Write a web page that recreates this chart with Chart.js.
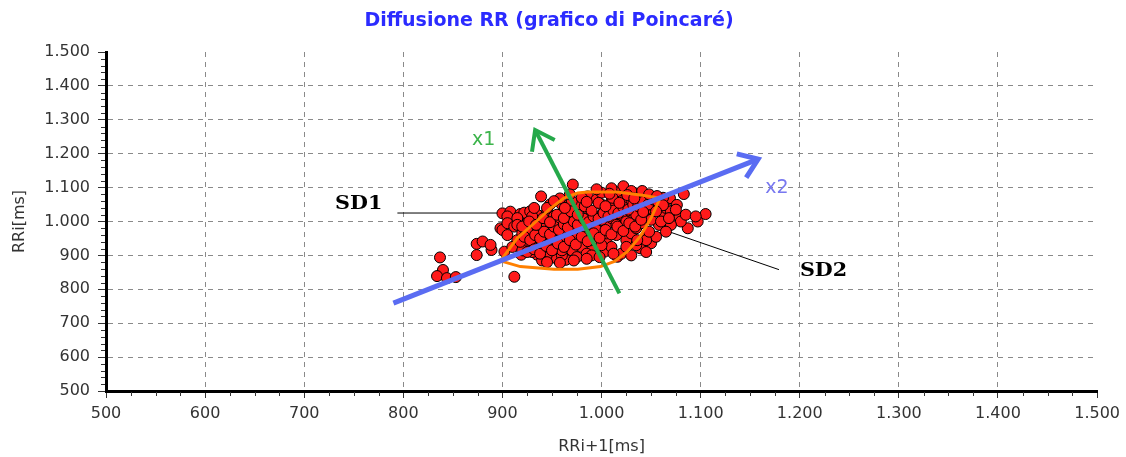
<!DOCTYPE html>
<html>
<head>
<meta charset="utf-8">
<title>Diffusione RR</title>
<script src="https://cdn.jsdelivr.net/npm/chart.js@4.4.1/dist/chart.umd.min.js"></script>
<style>
  html, body { margin: 0; padding: 0; background: #fff; }
</style>
</head>
<body>
<canvas id="poincare" width="1126" height="457"></canvas>
<script>
// tick labels (Italian thousands separator)
const xTickLabels = ["500", "600", "700", "800", "900", "1.000", "1.100", "1.200", "1.300", "1.400", "1.500"];
const yTickLabels = ["500", "600", "700", "800", "900", "1.000", "1.100", "1.200", "1.300", "1.400", "1.500"];

// RRi+1 (x) and RRi (y) in ms, one row of ten beats per line
const rrNext = [
  837, 840, 834, 844, 853, 874, 874, 889, 880, 888,
  898, 900, 908, 918, 922, 912, 939, 971, 986, 1022,
  1013, 1033, 1050, 1069, 1083, 1076, 1105, 1097, 1087, 1076,
  1060, 1058, 1046, 1050, 1039, 1016, 1003, 989, 964, 953,
  935, 919, 902, 900, 905, 915, 928, 935, 945, 952,
  905, 912, 925, 940, 905, 915, 920, 930, 925, 935,
  945, 910, 920, 930, 945, 955, 960, 940, 950, 958,
  965, 950, 940, 960, 970, 965, 955, 975, 980, 975,
  980, 970, 985, 990, 995, 985, 1000, 995, 990, 985,
  975, 965, 960, 970, 980, 995, 1000, 1005, 1010, 1015,
  1005, 1020, 1015, 1005, 1025, 1030, 1035, 1040, 1030, 1025,
  1020, 1010, 1015, 1025, 1035, 1040, 1045, 1050, 1055, 1045,
  1060, 1030, 1000, 995, 1010, 1040, 1065, 1070, 1080, 1085,
  1095, 1070, 1065, 1055, 1045, 1035, 1025, 1010, 1000, 990,
  975, 1020, 1030, 1045, 915, 925, 935, 955, 960, 940,
  960, 970, 980, 990, 1000, 1010, 990, 1000, 1010, 1020,
  1030, 1020, 965, 975, 985, 995, 1005, 950, 940, 930,
  1015, 1025, 1035, 1045, 1050, 948, 958, 968, 945, 930,
  918, 922, 928, 933, 938, 942, 948, 952, 957, 962,
  966, 972, 976, 982, 987, 992, 997, 1002, 1007, 1012,
  1017, 1022, 1027, 1032, 1037, 1042, 1047, 1052, 1057, 1062,
  925, 932, 938, 944, 950, 956, 962, 968, 974, 980,
  986, 992, 998, 1004, 1010, 1016, 1022, 1028, 1034, 1040,
  920, 927, 934, 941, 948, 955, 962, 969, 976, 983,
  990, 997, 1004, 1011, 1018, 1026, 1033, 1041, 1048, 1056,
  945, 958, 972, 985, 998, 1012, 1025, 1036, 1048, 1060,
  1068, 1075, 1062, 1055, 1042, 1008, 985, 963, 952, 932
];
const rrCurr = [
  894, 857, 839, 833, 836, 934, 901, 916, 941, 931,
  980, 1024, 1029, 1022, 1026, 837, 1074, 1109, 1074, 1104,
  1089, 1084, 1074, 1069, 1081, 1049, 1022, 1000, 980, 1019,
  1025, 990, 961, 936, 921, 896, 911, 921, 887, 906,
  902, 902, 911, 975, 1015, 1010, 1030, 1020, 1028, 1015,
  995, 985, 995, 1005, 960, 945, 965, 950, 930, 940,
  955, 925, 915, 910, 895, 890, 900, 920, 935, 945,
  960, 970, 980, 985, 975, 1000, 1005, 1010, 995, 940,
  925, 915, 905, 945, 960, 970, 980, 1000, 1020, 1040,
  1045, 1030, 1050, 1060, 1070, 1065, 1050, 1035, 1020, 1000,
  990, 985, 960, 950, 945, 965, 980, 995, 1010, 1030,
  1045, 1060, 1075, 1065, 1055, 1040, 1020, 1005, 1045, 1060,
  1060, 1090, 1085, 1095, 1098, 1075, 1040, 1030, 1000, 1020,
  1015, 990, 970, 955, 945, 930, 915, 925, 930, 900,
  895, 905, 900, 910, 990, 975, 965, 925, 915, 885,
  970, 990, 980, 990, 1005, 1010, 1010, 1020, 1040, 1020,
  1040, 1060, 945, 960, 955, 975, 965, 950, 935, 925,
  990, 1000, 1020, 1035, 1050, 1050, 1068, 1080, 1040, 1015,
  940, 955, 945, 960, 950, 970, 962, 985, 975, 992,
  982, 1000, 990, 1008, 998, 1015, 1008, 1025, 1015, 1032,
  1025, 1042, 1035, 1050, 1045, 1058, 1050, 1065, 1058, 1070,
  910, 918, 905, 928, 915, 935, 925, 945, 932, 955,
  942, 965, 952, 975, 962, 985, 972, 995, 985, 1005,
  985, 1000, 990, 1010, 998, 1020, 1010, 1030, 1020, 1045,
  1032, 1055, 1045, 1070, 1055, 1078, 1068, 1090, 1080, 1075,
  880, 878, 885, 890, 895, 905, 925, 945, 970, 1000,
  1010, 1035, 1048, 1030, 1028, 1082, 1058, 1040, 1060, 1040
];

// SD ellipse outline (x, y in ms)
const ellipseX = [898, 915, 934, 947, 962, 976, 986, 1016, 1043, 1059, 1050, 1039, 1026, 1013, 999, 976, 952, 918, 898];
const ellipseY = [884, 951, 1000, 1035, 1069, 1084, 1087, 1087, 1077, 1069, 1010, 956, 911, 882, 867, 859, 859, 867, 884];

// principal axes (start, tip)
const axisX2 = { x: [790, 1158], y: [759, 1184] };
const axisX1 = { x: [1018, 933], y: [788, 1270] };

// leader lines for the SD labels
const leaderSD1 = { x: [794, 917], y: [1025, 1025] };
const leaderSD2 = { x: [1064, 1179], y: [974, 858] };

const notes = [
  { text: "SD1", x: 755, y: 1052, font: "bold 18px 'DejaVu Serif'", color: "#000", stretch: 1.15 },
  { text: "SD2", x: 1224, y: 854, font: "bold 18px 'DejaVu Serif'", color: "#000", stretch: 1.15 },
  { text: "x1", x: 881, y: 1240, font: "19px 'DejaVu Sans'", color: "#3cb44b", stretch: 1 },
  { text: "x2", x: 1177, y: 1100, font: "19px 'DejaVu Sans'", color: "#7878f0", stretch: 1 }
];

const toPts = (xs, ys) => xs.map((x, i) => ({ x: x, y: ys[i] }));

const decor = {
  id: "decor",
  afterDatasetsDraw(chart) {
    const ctx = chart.ctx;
    // arrow heads on the axis lines
    chart.data.datasets.forEach((ds, i) => {
      if (!ds.arrowHead) return;
      const pts = chart.getDatasetMeta(i).data;
      const a = pts[pts.length - 2], b = pts[pts.length - 1];
      const ang = Math.atan2(b.y - a.y, b.x - a.x);
      const len = 22, spread = 0.62;
      ctx.save();
      ctx.strokeStyle = ds.borderColor;
      ctx.lineWidth = ds.borderWidth;
      ctx.lineJoin = "miter";
      ctx.beginPath();
      ctx.moveTo(b.x - len * Math.cos(ang - spread), b.y - len * Math.sin(ang - spread));
      ctx.lineTo(b.x, b.y);
      ctx.lineTo(b.x - len * Math.cos(ang + spread), b.y - len * Math.sin(ang + spread));
      ctx.stroke();
      ctx.restore();
    });
    // text notes
    const xs = chart.scales.x, ys = chart.scales.y;
    notes.forEach((n) => {
      ctx.save();
      ctx.font = n.font;
      ctx.fillStyle = n.color;
      ctx.textAlign = "center";
      ctx.textBaseline = "middle";
      ctx.translate(xs.getPixelForValue(n.x), ys.getPixelForValue(n.y));
      ctx.scale(n.stretch, 1);
      ctx.fillText(n.text, 0, 0);
      ctx.restore();
    });
  },
  afterDraw(chart) {
    // minor tick marks
    const ctx = chart.ctx;
    const xs = chart.scales.x, ys = chart.scales.y;
    const area = chart.chartArea;
    ctx.save();
    ctx.strokeStyle = "#333";
    ctx.lineWidth = 1;
    ctx.beginPath();
    for (let v = 525; v < 1500; v += 25) {
      if (v % 100 === 0) continue;
      const px = Math.round(xs.getPixelForValue(v)) + 0.5;
      ctx.moveTo(px, area.bottom + 1);
      ctx.lineTo(px, area.bottom + 5);
    }
    for (let v = 520; v < 1500; v += 20) {
      if (v % 100 === 0) continue;
      const py = Math.round(ys.getPixelForValue(v)) + 0.5;
      ctx.moveTo(area.left - 1, py);
      ctx.lineTo(area.left - 5, py);
    }
    ctx.stroke();
    ctx.restore();
  }
};

const tickFont = { family: "DejaVu Sans", size: 16 };
const gridColor = (c) => (c.tick && (c.tick.value === 500 || c.tick.value === 1500)) ? "rgba(0,0,0,0)" : "#8a8a8a";

new Chart(document.getElementById("poincare"), {
  type: "scatter",
  data: {
    datasets: [
      {
        label: "SD1 leader",
        data: toPts(leaderSD1.x, leaderSD1.y),
        showLine: true, borderColor: "#000", borderWidth: 1, pointRadius: 0, order: 6
      },
      {
        label: "SD2 leader",
        data: toPts(leaderSD2.x, leaderSD2.y),
        showLine: true, borderColor: "#000", borderWidth: 1, pointRadius: 0, order: 6
      },
      {
        label: "RR",
        data: toPts(rrNext, rrCurr),
        backgroundColor: "#ff1a1a",
        borderColor: "#000",
        borderWidth: 1,
        pointRadius: 5.5,
        order: 5
      },
      {
        label: "ellisse",
        data: toPts(ellipseX, ellipseY),
        showLine: true, borderColor: "#ff8000", borderWidth: 3, pointRadius: 0, order: 4
      },
      {
        label: "x2",
        data: toPts(axisX2.x, axisX2.y),
        showLine: true, borderColor: "#5a6cf2", borderWidth: 5, pointRadius: 0, order: 3, arrowHead: true
      },
      {
        label: "x1",
        data: toPts(axisX1.x, axisX1.y),
        showLine: true, borderColor: "#25a84a", borderWidth: 4, pointRadius: 0, order: 2, arrowHead: true
      }
    ]
  },
  options: {
    responsive: false,
    animation: false,
    layout: { padding: { left: 0, right: 28, top: 0, bottom: 0 } },
    plugins: {
      legend: { display: false },
      tooltip: { enabled: false },
      title: {
        display: true,
        text: "Diffusione RR (grafico di Poincaré)",
        color: "#2b2bff",
        font: { family: "DejaVu Sans", size: 19, weight: "bold" },
        padding: { top: 10, bottom: 19.2 }
      }
    },
    scales: {
      x: {
        type: "linear",
        min: 500,
        max: 1500,
        afterFit: (s) => { s.height = 66; },
        ticks: {
          stepSize: 100,
          autoSkip: false,
          maxRotation: 0,
          color: "#333",
          font: tickFont,
          padding: 6,
          callback: (v, i) => xTickLabels[i]
        },
        grid: { color: gridColor, lineWidth: 1, tickColor: "#333", tickLength: 7, borderDash: [5, 5] },
        border: { display: true, color: "#000", width: 3, dash: [5, 5] },
        title: {
          display: true,
          text: "RRi+1[ms]",
          color: "#333",
          font: tickFont,
          padding: { top: 0, bottom: 1 }
        }
      },
      y: {
        type: "linear",
        min: 500,
        max: 1500,
        afterFit: (s) => { s.width = 106; },
        ticks: {
          stepSize: 100,
          autoSkip: false,
          color: "#333",
          font: tickFont,
          padding: 8,
          callback: (v, i) => yTickLabels[i]
        },
        grid: { color: gridColor, lineWidth: 1, tickColor: "#333", tickLength: 8, borderDash: [5, 5] },
        border: { display: true, color: "#000", width: 3, dash: [5, 5] },
        title: {
          display: true,
          text: "RRi[ms]",
          color: "#333",
          font: tickFont,
          padding: { top: 10, bottom: 0 }
        }
      }
    }
  },
  plugins: [decor]
});
</script>
</body>
</html>
